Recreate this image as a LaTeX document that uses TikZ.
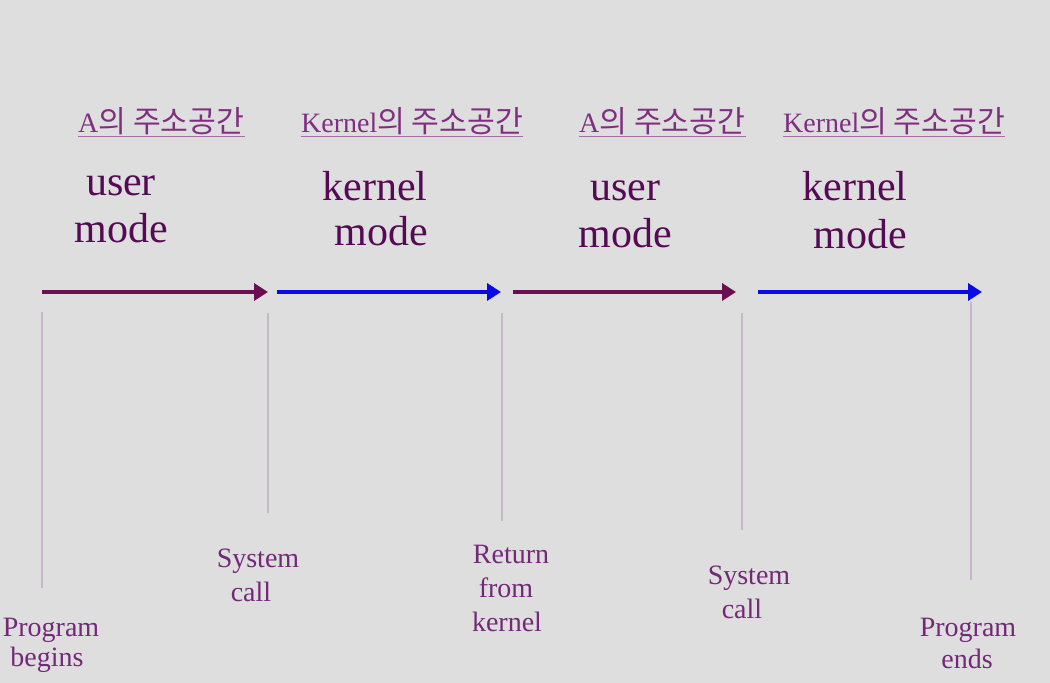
\documentclass[tikz,border=0pt]{standalone}
\usepackage{fontspec}
\setmainfont{Liberation Serif}
\newfontfamily\krfont[Scale=1.08]{Noto Sans CJK KR}
\usetikzlibrary{arrows.meta}
\definecolor{bg}{HTML}{DEDEDE}
\definecolor{hdr}{HTML}{7F2F80}
\definecolor{modec}{HTML}{560A55}
\definecolor{lbl}{HTML}{742878}
\definecolor{userarr}{HTML}{6A0F52}
\definecolor{kernarr}{HTML}{0A0AE6}
\definecolor{tick}{HTML}{C6B8C8}
\newcommand{\kr}[1]{{\krfont #1}}
\begin{document}
\begin{tikzpicture}[x=1pt,y=-1pt,
  header/.style={inner sep=0pt, anchor=base west, text=hdr, font=\fontsize{28}{33}\selectfont},
  uline/.style={draw=hdr!70, line width=1.8pt},
  modetext/.style={inner sep=0pt, anchor=base, text=modec, font=\fontsize{42}{47}\selectfont},
  event/.style={inner sep=0pt, anchor=base, text=lbl, font=\fontsize{28}{33}\selectfont},
  flow/.style={line width=4.4pt, -{Triangle[length=14pt,width=17pt]}},
  userflow/.style={flow, draw=userarr},
  kernflow/.style={flow, draw=kernarr},
  tickline/.style={draw=tick, line width=1.2pt}]
\useasboundingbox (0,0) rectangle (1050,683);
\fill[bg] (0,0) rectangle (1050,683);

% address-space headers
\node[header] (h1) at (78,132) {A\kr{의 주소공간}};
\node[header] (h2) at (301,132) {Kernel\kr{의 주소공간}};
\node[header] (h3) at (579,132) {A\kr{의 주소공간}};
\node[header] (h4) at (783,132) {Kernel\kr{의 주소공간}};
\foreach \h in {h1,h2,h3,h4}
  \draw[uline] ([yshift=-4.5pt]\h.base west) -- ([yshift=-4.5pt]\h.base east);

% mode labels
\node[modetext] (m1a) at (121,195) {user};
\node[modetext] (m1b) at (121,242) {mode};
\node[modetext] (m2a) at (375,200) {kernel};
\node[modetext] (m2b) at (381,245) {mode};
\node[modetext] (m3a) at (625,200) {user};
\node[modetext] (m3b) at (625,247) {mode};
\node[modetext] (m4a) at (855,200) {kernel};
\node[modetext] (m4b) at (860,248) {mode};

% timeline arrows
\coordinate (a1s) at (42,292);  \coordinate (a1e) at (268,292);
\coordinate (a2s) at (277,292); \coordinate (a2e) at (501,292);
\coordinate (a3s) at (513,292); \coordinate (a3e) at (736,292);
\coordinate (a4s) at (758,292); \coordinate (a4e) at (982,292);
\draw[userflow] (a1s) -- (a1e);
\draw[kernflow] (a2s) -- (a2e);
\draw[userflow] (a3s) -- (a3e);
\draw[kernflow] (a4s) -- (a4e);

% event markers
\coordinate (t1a) at (42,312);  \coordinate (t1b) at (42,588);
\coordinate (t2a) at (268,313); \coordinate (t2b) at (268,513);
\coordinate (t3a) at (502,313); \coordinate (t3b) at (502,521);
\coordinate (t4a) at (742,313); \coordinate (t4b) at (742,530);
\coordinate (t5a) at (971,302); \coordinate (t5b) at (971,580);
\foreach \t in {t1,t2,t3,t4,t5}
  \draw[tickline] (\t a) -- (\t b);

% event labels
\node[event] (e1a) at (51,636) {Program};
\node[event] (e1b) at (47,666) {begins};
\node[event] (e2a) at (258,567) {System};
\node[event] (e2b) at (251,601) {call};
\node[event] (e3a) at (511,563) {Return};
\node[event] (e3b) at (506,597) {from};
\node[event] (e3c) at (507,631) {kernel};
\node[event] (e4a) at (749,584) {System};
\node[event] (e4b) at (742,618) {call};
\node[event] (e5a) at (968,636) {Program};
\node[event] (e5b) at (967,668) {ends};
\end{tikzpicture}
\end{document}
